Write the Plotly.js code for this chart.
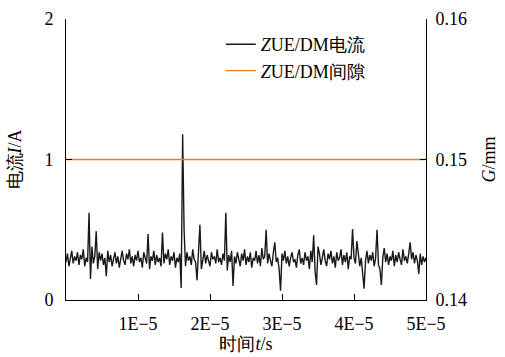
<!DOCTYPE html>
<html>
<head>
<meta charset="utf-8">
<script src="https://cdn.plot.ly/plotly-3.0.1.min.js"></script>
</head>
<body style="margin:0;background:#fff">
<div id="chart"></div>
<script>
// time step between current samples (s)
const dt = 2e-7;
// ZUE/DM current (A)
const currentValues = [
0.27,0.33,0.24,0.30,0.35,0.26,0.31,0.28,0.34,0.25,
0.32,0.29,0.36,0.24,0.30,0.27,0.62,0.15,0.38,0.26,
0.31,0.49,0.22,0.34,0.28,0.33,0.25,0.30,0.17,0.35,
0.27,0.32,0.24,0.29,0.34,0.26,0.31,0.23,0.30,0.35,
0.28,0.25,0.33,0.29,0.36,0.26,0.31,0.24,0.32,0.28,
0.35,0.27,0.30,0.23,0.34,0.29,0.26,0.47,0.22,0.31,
0.28,0.35,0.25,0.32,0.27,0.30,0.24,0.48,0.26,0.33,
0.29,0.36,0.25,0.31,0.28,0.34,0.23,0.30,0.27,0.33,
0.085,1.18,0.50,0.24,0.34,0.28,0.31,0.25,0.36,0.29,
0.27,0.14,0.33,0.535,0.22,0.30,0.35,0.26,0.32,0.28,
0.24,0.34,0.29,0.31,0.26,0.36,0.27,0.30,0.25,0.33,
0.28,0.62,0.21,0.32,0.27,0.35,0.10,0.31,0.26,0.34,
0.29,0.24,0.33,0.28,0.36,0.25,0.31,0.27,0.34,0.23,
0.30,0.28,0.35,0.26,0.32,0.24,0.37,0.29,0.31,0.50,
0.26,0.33,0.28,0.24,0.34,0.41,0.27,0.30,0.22,0.066,
0.33,0.28,0.35,0.26,0.31,0.24,0.30,0.34,0.27,0.29,
0.23,0.32,0.36,0.26,0.30,0.25,0.34,0.28,0.31,0.22,
0.35,0.27,0.46,0.20,0.107,0.38,0.33,0.25,0.30,0.36,
0.28,0.24,0.33,0.29,0.35,0.26,0.31,0.23,0.34,0.28,
0.30,0.36,0.25,0.32,0.27,0.34,0.22,0.31,0.29,0.505,
0.30,0.26,0.42,0.33,0.24,0.30,0.20,0.08,0.28,0.35,
0.26,0.32,0.28,0.34,0.24,0.30,0.50,0.25,0.22,0.107,
0.30,0.37,0.27,0.33,0.25,0.31,0.28,0.35,0.24,0.32,
0.27,0.34,0.29,0.25,0.36,0.28,0.31,0.26,0.33,0.41,
0.29,0.34,0.26,0.32,0.28,0.186,0.33,0.25,0.31,0.27,
0.30
];
const currentTimes = currentValues.map((v, i) => i * dt);
// ZUE/DM gap (mm)
const gapTimes = [0, 5e-5];
const gapValues = [0.15, 0.15];
// tick labels
const xTickVals = [1e-5, 2e-5, 3e-5, 4e-5, 5e-5];
const xTickText = ['1E\u22125', '2E\u22125', '3E\u22125', '4E\u22125', '5E\u22125'];
const yTickVals = [0, 1, 2];
const y2TickVals = [0.14, 0.15, 0.16];

const FONT = 'Liberation Serif';

const traces = [
  {x: currentTimes, y: currentValues, type: 'scatter', mode: 'lines',
   name: '<i>Z</i>UE/DM电流', line: {color: '#1a1a1a', width: 1.4}, yaxis: 'y'},
  {x: gapTimes, y: gapValues, type: 'scatter', mode: 'lines',
   name: '<i>Z</i>UE/DM间隙', line: {color: '#F07F1A', width: 1.4}, yaxis: 'y2'}
];

const axisCommon = {showline: true, linecolor: '#000', linewidth: 1, ticks: 'inside', ticklen: 6,
  tickcolor: '#000', showgrid: false, zeroline: false, tickfont: {family: FONT, size: 18}};

const layout = {
  width: 505, height: 357,
  margin: {l: 66, r: 79, t: 19, b: 57},
  paper_bgcolor: '#fff', plot_bgcolor: '#fff',
  font: {family: FONT, size: 18, color: '#000'},
  showlegend: true,
  legend: {x: 0.43, y: 0.975, xanchor: 'left', yanchor: 'top', bgcolor: 'rgba(0,0,0,0)',
    font: {family: FONT, size: 18}, tracegroupgap: 0},
  xaxis: Object.assign({}, axisCommon, {range: [0, 5e-5], tickvals: xTickVals, ticktext: xTickText,
    ticklabelstandoff: 7,
    title: {text: '时间<i>t</i>/s', font: {family: FONT, size: 18}, standoff: 2}}),
  yaxis: Object.assign({}, axisCommon, {range: [0, 2], tickvals: yTickVals, tickformat: 'd',
    ticklabelstandoff: 8,
    title: {text: '电流<i>I</i>/A', font: {family: FONT, size: 18}, standoff: 18}}),
  yaxis2: Object.assign({}, axisCommon, {range: [0.14, 0.16], tickvals: y2TickVals, tickformat: '.2f',
    overlaying: 'y', side: 'right', ticklabelstandoff: 5,
    title: {text: '<i>G</i>/mm', font: {family: FONT, size: 18}, standoff: 16}})
};

Plotly.newPlot('chart', traces, layout, {displayModeBar: false, staticPlot: true});
</script>
</body>
</html>
